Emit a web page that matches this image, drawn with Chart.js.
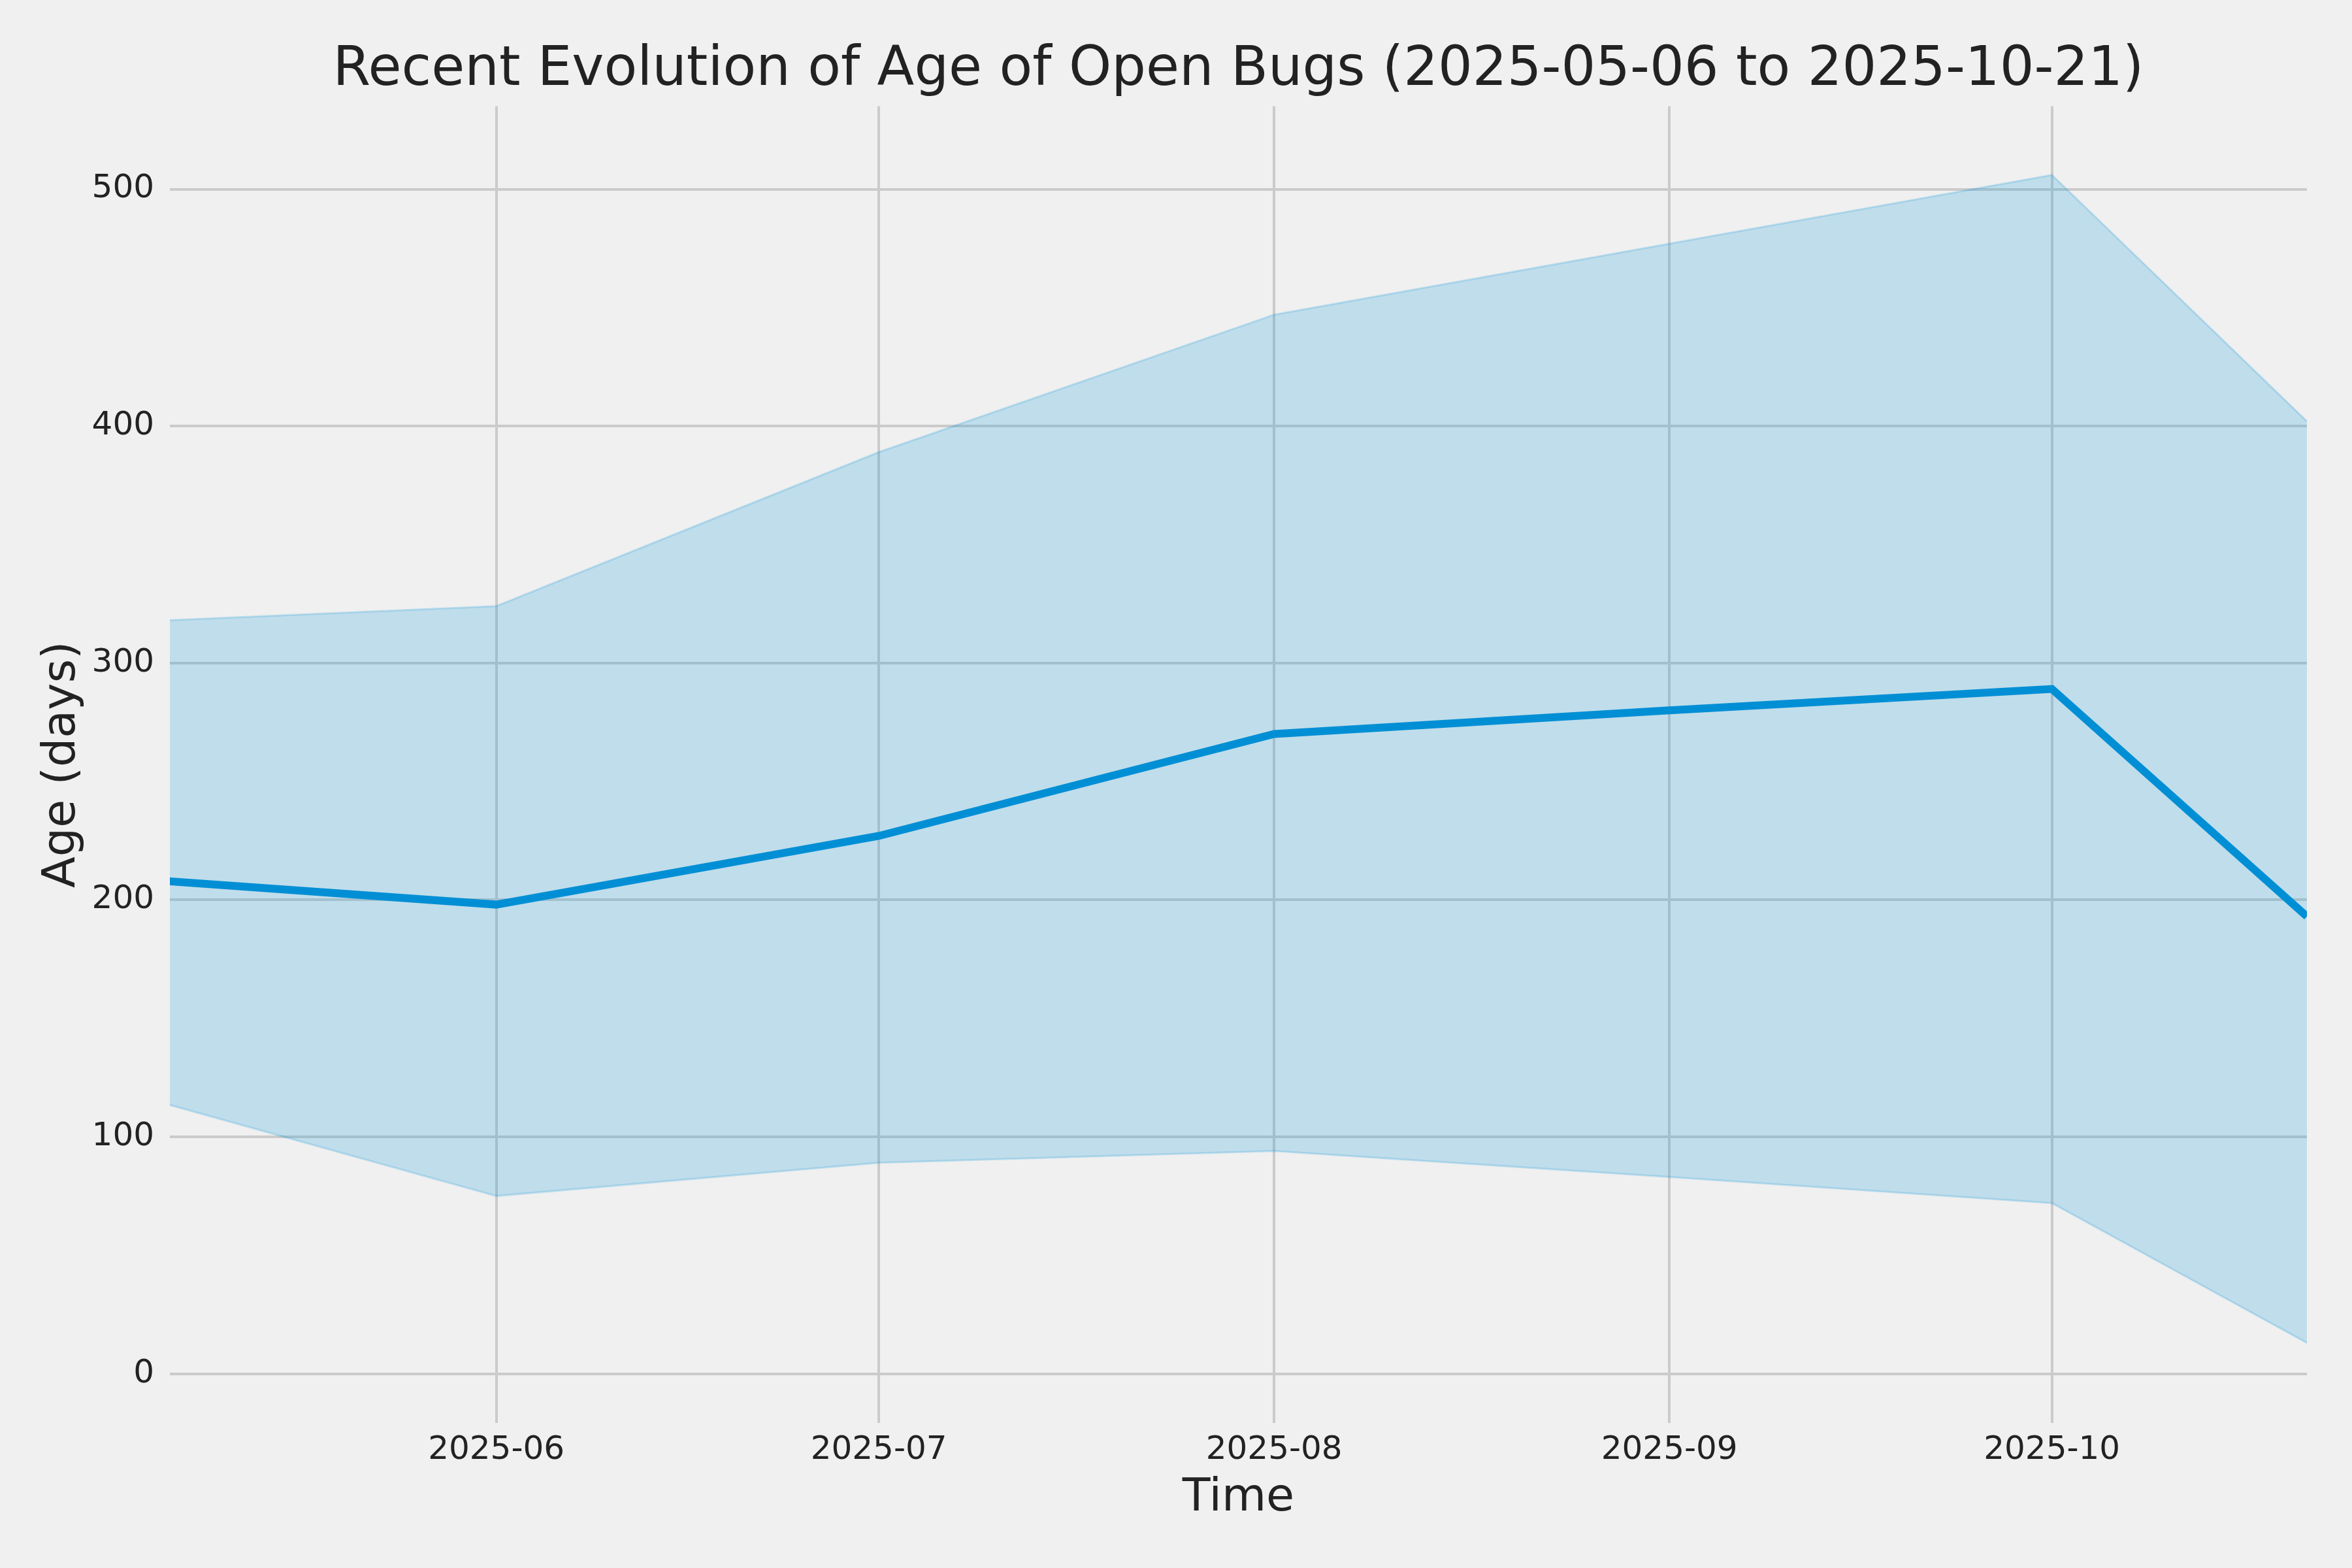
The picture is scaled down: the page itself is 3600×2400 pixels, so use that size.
<!DOCTYPE html>
<html>
<head>
<meta charset="utf-8">
<script src="https://cdn.jsdelivr.net/npm/chart.js@4.4.1/dist/chart.umd.min.js"></script>
<style>
  html, body { margin: 0; background: #f0f0f0; }
  canvas { display: block; }
</style>
</head>
<body>
<canvas id="bugChart" width="3600" height="2400"></canvas>
<script>
// sample dates and age stats (mean with +/- band)
var dates = ["2025-05-06", "2025-06-01", "2025-07-01", "2025-08-01", "2025-09-01", "2025-10-01", "2025-10-21"];
var meanAge = [208, 198, 227, 270, 280, 289, 193];
var upperAge = [318, 324, 389, 447, 477, 506, 402];
var lowerAge = [114, 75, 89, 94, 83, 72, 13];

var xTickLabels = ["2025-06", "2025-07", "2025-08", "2025-09", "2025-10"];
var yTicks = [0, 100, 200, 300, 400, 500];

// day number from "YYYY-MM" or "YYYY-MM-DD"
function toDay(s) {
  var p = s.split("-");
  return Date.UTC(+p[0], +p[1] - 1, p[2] ? +p[2] : 1) / 86400000;
}

function points(values) {
  return dates.map(function (d, i) { return { x: toDay(d), y: values[i] }; });
}

var font = "DejaVu Sans";
var band = "rgba(0,143,213,0.2)";

new Chart(document.getElementById("bugChart"), {
  type: "line",
  data: {
    datasets: [
      {
        label: "Mean age",
        data: points(meanAge),
        borderColor: "#008fd5",
        borderWidth: 12,
        pointRadius: 0,
        fill: false,
        tension: 0,
        clip: 0
      },
      {
        label: "Upper",
        data: points(upperAge),
        borderColor: band,
        borderWidth: 3,
        backgroundColor: band,
        pointRadius: 0,
        fill: "+1",
        tension: 0,
        clip: 0
      },
      {
        label: "Lower",
        data: points(lowerAge),
        borderColor: band,
        borderWidth: 3,
        pointRadius: 0,
        fill: false,
        tension: 0,
        clip: 0
      }
    ]
  },
  options: {
    responsive: false,
    devicePixelRatio: 1,
    animation: false,
    layout: { padding: { left: 0, right: 69, top: 0, bottom: 0 } },
    plugins: {
      legend: { display: false },
      tooltip: { enabled: false },
      title: {
        display: true,
        text: "Recent Evolution of Age of Open Bugs (2025-05-06 to 2025-10-21)",
        fullSize: false,
        color: "#222222",
        font: { family: font, size: 83, weight: "normal" },
        padding: { top: 59, bottom: 4 }
      }
    },
    scales: {
      x: {
        type: "linear",
        min: toDay(dates[0]) + 0.4,
        max: toDay(dates[dates.length - 1]),
        afterBuildTicks: function (scale) {
          scale.ticks = xTickLabels.map(function (l) { return { value: toDay(l) }; });
        },
        afterFit: function (scale) { scale.height = 222; },
        ticks: {
          autoSkip: false,
          maxRotation: 0,
          padding: 12,
          color: "#222222",
          font: { family: font, size: 50 },
          callback: function (v, i) { return xTickLabels[i]; }
        },
        grid: { color: "#cbcbcb", lineWidth: 4, drawTicks: false },
        border: { display: false },
        title: {
          display: true,
          text: "Time",
          color: "#222222",
          font: { family: font, size: 70 },
          padding: { top: 0, bottom: 64 }
        }
      },
      y: {
        min: -20.8,
        max: 535,
        afterBuildTicks: function (scale) {
          scale.ticks = yTicks.map(function (v) { return { value: v }; });
        },
        afterFit: function (scale) { scale.width = 260; },
        ticks: {
          padding: 24,
          color: "#222222",
          font: { family: font, size: 50 }
        },
        grid: { color: "#cbcbcb", lineWidth: 4, drawTicks: false },
        border: { display: false },
        title: {
          display: true,
          text: "Age (days)",
          color: "#222222",
          font: { family: font, size: 70 },
          padding: { top: 54, bottom: 0 }
        }
      }
    }
  }
});
</script>
</body>
</html>
